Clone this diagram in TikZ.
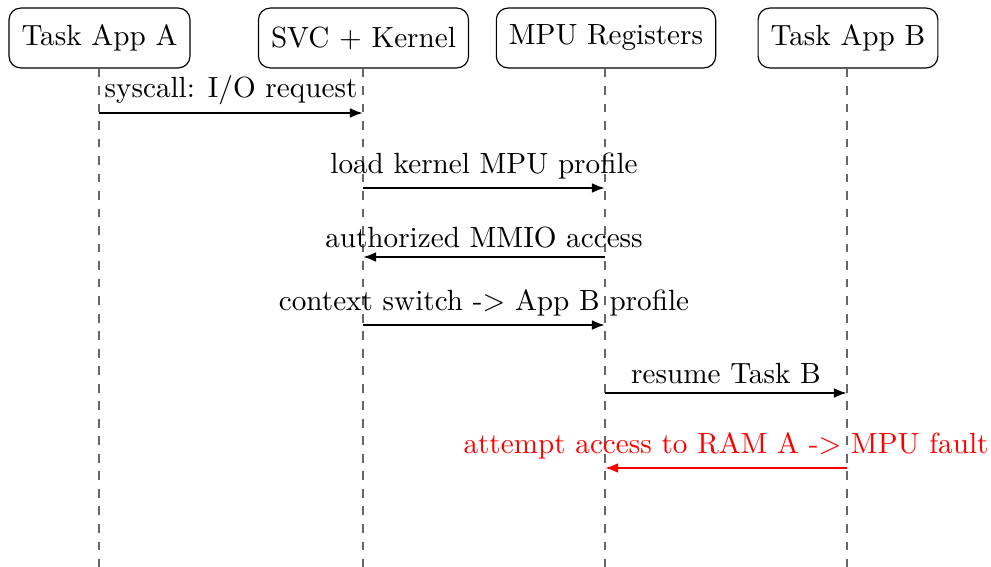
\documentclass[tikz,border=0pt]{standalone}
\usetikzlibrary{arrows.meta}
\begin{document}
\begin{tikzpicture}[x=0.3425pt,y=-0.3425pt,
  actor/.style={draw, rounded corners=4pt, minimum height=20.5pt, inner xsep=4.3pt, font=\normalsize},
  lifeline/.style={draw=black!60, dashed, line width=0.45pt},
  msg/.style={-{Latex[length=4.5pt,width=3.4pt]}, line width=0.75pt},
  lbl/.style={above, inner sep=2.6pt}]
\useasboundingbox (0,0) rectangle (991,567);
\node[actor] (A) at (99.5,38) {Task App A};
\node[actor] (K) at (363.5,38) {SVC + Kernel};
\node[actor] (M) at (606,38) {MPU Registers};
\node[actor] (B) at (848,38) {Task App B};
\coordinate (Aend) at (99,567);
\coordinate (Kend) at (363,567);
\coordinate (Mend) at (605,567);
\coordinate (Bend) at (847,567);
\draw[lifeline] (A.south -| Aend) -- (Aend);
\draw[lifeline] (K.south -| Kend) -- (Kend);
\draw[lifeline] (M.south -| Mend) -- (Mend);
\draw[lifeline] (B.south -| Bend) -- (Bend);
% message endpoints
\coordinate (a1) at (99,113);  \coordinate (k1) at (363,113);
\coordinate (k2) at (363,188); \coordinate (m2) at (605,188);
\coordinate (m3) at (605,257); \coordinate (k3) at (363,257);
\coordinate (k4) at (363,325); \coordinate (m4) at (605,325);
\coordinate (m5) at (605,393); \coordinate (b5) at (847,393);
\coordinate (b6) at (847,468); \coordinate (m6) at (605,468);
\draw[msg] (a1) -- node[lbl] {syscall: I/O request} (k1);
\draw[msg] (k2) -- node[lbl] {load kernel MPU profile} (m2);
\draw[msg] (m3) -- node[lbl] {authorized MMIO access} (k3);
\draw[msg] (k4) -- node[lbl] {context switch -> App B profile} (m4);
\draw[msg] (m5) -- node[lbl] {resume Task B} (b5);
\draw[msg, red] (b6) -- node[lbl] {attempt access to RAM A -> MPU fault} (m6);
\end{tikzpicture}
\end{document}
